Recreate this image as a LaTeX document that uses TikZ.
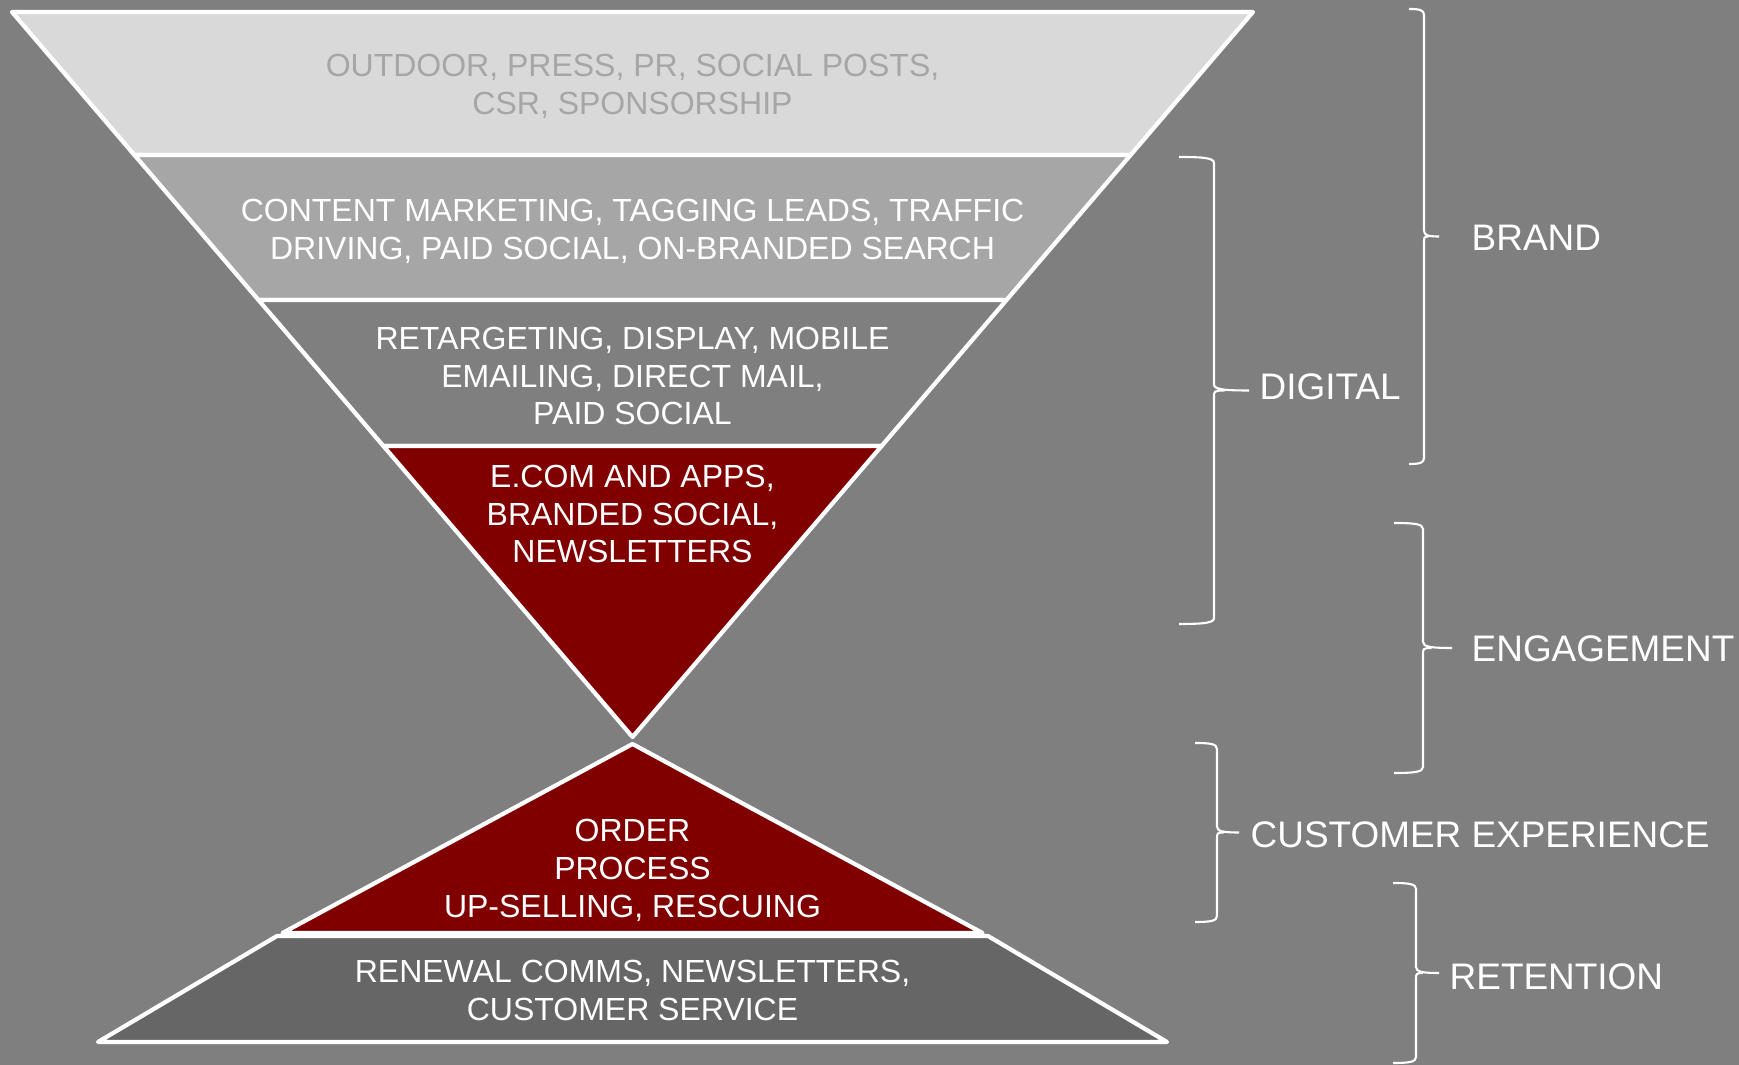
\documentclass[tikz,border=0pt]{standalone}
\usepackage{fontspec}
\setmainfont{Liberation Sans}

\definecolor{backgray}{HTML}{7F7F7F}
\definecolor{lightband}{HTML}{D9D9D9}
\definecolor{lighttext}{HTML}{A6A6A6}
\definecolor{midband}{HTML}{A6A6A6}
\definecolor{darkband}{HTML}{666666}
\definecolor{maroon}{HTML}{800000}

\begin{document}
\begin{tikzpicture}[x=0.01cm, y=-0.01cm,
    band/.style = {draw=white, line width=1.2pt, line join=round},
    item/.style = {text=white, align=center, inner sep=0pt, font=\fontsize{9.1}{10.8}\selectfont},
    tag/.style = {text=white, anchor=west, inner sep=0pt, font=\fontsize{10.5}{12}\selectfont},
    brace/.style = {draw=white, line width=0.6pt}]
    \useasboundingbox (0,0) rectangle (1739,1065);
    \fill[backgray] (0,0) rectangle (1739,1065);

    % funnel, top to bottom
    \draw[band, fill=lightband] (12,12) -- (1253,12) -- (1130.6,155) -- (134.4,155) -- cycle;
    \draw[band, fill=midband] (134.4,155) -- (1130.6,155) -- (1006.5,300) -- (258.5,300) -- cycle;
    \draw[band, fill=backgray] (258.5,300) -- (1006.5,300) -- (881.6,446) -- (383.4,446) -- cycle;
    \draw[band, fill=maroon] (383.4,446) -- (881.6,446) -- (632.5,737) -- cycle;

    % pyramid below
    \draw[band, fill=maroon] (632.5,744) -- (982.5,933) -- (282.5,933) -- cycle;
    \draw[band, fill=darkband] (277,936) -- (988,936) -- (1167,1042) -- (98,1042) -- cycle;

    \node at (632.5,86) [item, text=lighttext] (outdoor) {OUTDOOR, PRESS, PR, SOCIAL POSTS,\\CSR, SPONSORSHIP};
    \node at (632.5,231.5) [item] (content) {CONTENT MARKETING, TAGGING LEADS, TRAFFIC\\DRIVING, PAID SOCIAL, ON-BRANDED SEARCH};
    \node at (632.5,376) [item] (retarget) {RETARGETING, DISPLAY, MOBILE\\EMAILING, DIRECT MAIL,\\PAID SOCIAL};
    \node at (632.5,514) [item] (ecom) {E.COM AND APPS,\\BRANDED SOCIAL,\\NEWSLETTERS};
    \node at (632.5,870) [item] (order) {ORDER\\PROCESS\\UP-SELLING, RESCUING};
    \node at (632.5,990.5) [item] (renewal) {RENEWAL COMMS, NEWSLETTERS,\\CUSTOMER SERVICE};

    % braces: x / top / middle / bottom / half width
    \foreach \x/\t/\m/\b/\w in {1424/9/236.5/464/15, 1214/157/390.5/624/35, 1423/523/648/773/29,
                                1217/743/832.5/922/22, 1416/883/973/1063/23}
      \draw[brace] (\x-\w,\t) .. controls (\x-0.3*\w,\t) and (\x,\t+1) .. (\x,\t+6)
        -- (\x,\m-6) .. controls (\x,\m-1) and (\x+0.3*\w,\m) .. (\x+\w,\m)
        (\x+0.3*\w,\m) .. controls (\x,\m) and (\x,\m+1) .. (\x,\m+6)
        -- (\x,\b-6) .. controls (\x,\b-1) and (\x-0.3*\w,\b) .. (\x-\w,\b);

    \node at (1471,238) [tag] (brand) {BRAND};
    \node at (1259,387) [tag] (digital) {DIGITAL};
    \node at (1471,649) [tag] (engage) {ENGAGEMENT};
    \node at (1250,835) [tag] (custexp) {CUSTOMER EXPERIENCE};
    \node at (1449,977) [tag] (retention) {RETENTION};
\end{tikzpicture}
\end{document}
